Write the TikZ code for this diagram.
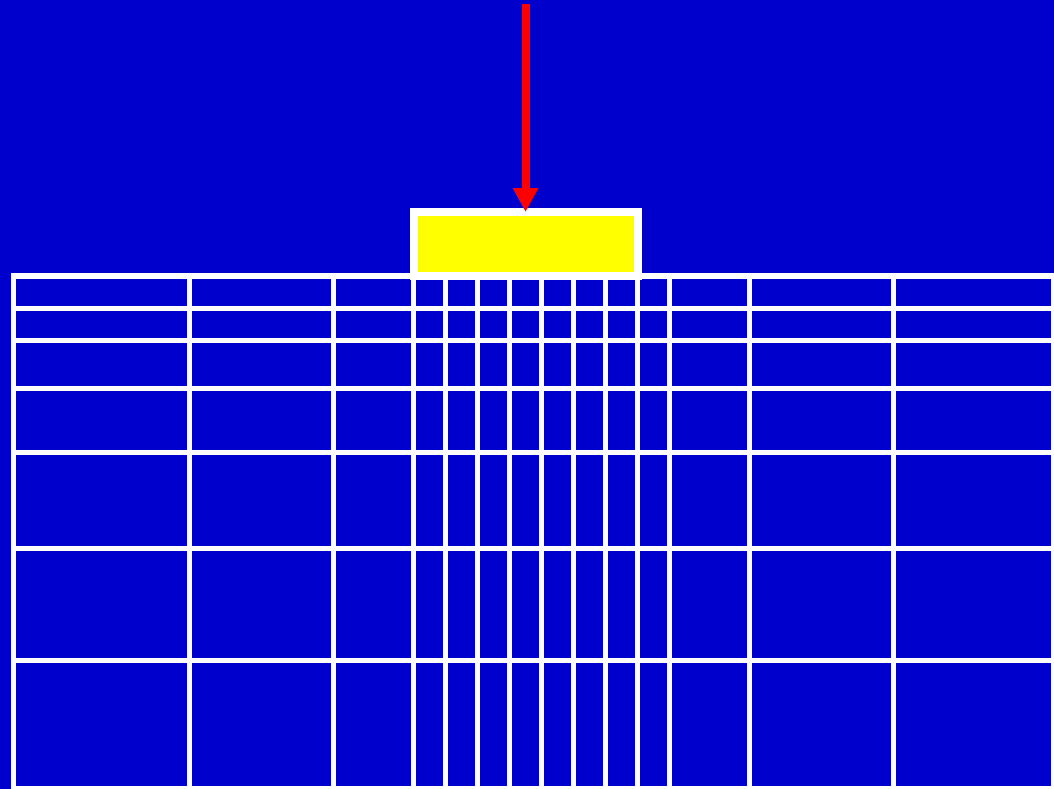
\documentclass[tikz,border=0pt]{standalone}
\usetikzlibrary{arrows.meta}
\definecolor{bgblue}{RGB}{0,0,204}
\definecolor{loadred}{RGB}{255,0,0}
\definecolor{loadyellow}{RGB}{255,255,0}
\tikzset{
  gridline/.style={draw=white, line width=5.5pt, line cap=rect},
  loadbox/.style={draw=white, fill=loadyellow, line width=8pt, rectangle,
    minimum width=224pt, minimum height=64pt, inner sep=0pt, outer sep=0pt},
  loadarrow/.style={draw=loadred, line width=8pt,
    -{Triangle[width=24pt,length=24pt]}, fill=loadred}
}
\begin{document}
\begin{tikzpicture}[x=1pt,y=-1pt]
  \useasboundingbox (0,0) rectangle (1054,789);
  \fill[bgblue] (0,0) rectangle (1054,789);
  % loaded plate
  \node[loadbox] (load) at (525.5,244) {};
  % grid (mesh)
  \foreach \y in {276,308.3,340.3,388.3,452.3,548.3,660.3,788.3}
    \draw[gridline] (13.3,\y) -- (1053.5,\y);
  \foreach \x in {13.3,189.5,333.7,413.5,445.5,477.5,509.5,541.5,573.5,605.5,637.5,669.5,749.7,893.7,1053.5}
    \draw[gridline] (\x,276) -- (\x,788.3);
  % load arrow
  \coordinate (atop) at (525.5,4);
  \draw[loadarrow] (atop) -- (load.north);
\end{tikzpicture}
\end{document}
